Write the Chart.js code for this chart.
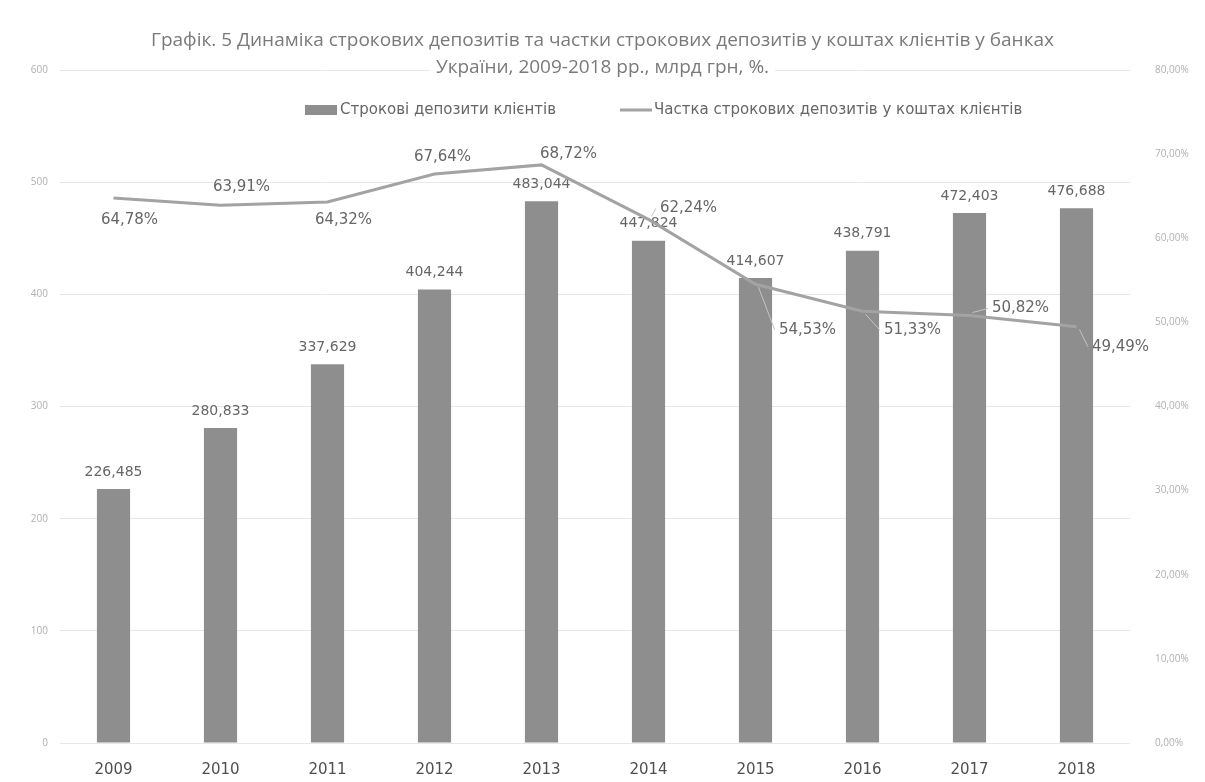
<!DOCTYPE html>
<html lang="uk">
<head>
<meta charset="utf-8">
<title>Строкові депозити</title>
<script src="https://cdn.jsdelivr.net/npm/chart.js@4.4.1/dist/chart.umd.min.js"></script>
<style>
  html, body { margin: 0; padding: 0; background: #fff; }
  #wrap { width: 1205px; height: 782px; }
</style>
</head>
<body>
<div id="wrap"><canvas id="depChart"></canvas></div>
<script>
// years on the category axis
const years = ['2009', '2010', '2011', '2012', '2013', '2014', '2015', '2016', '2017', '2018'];
// term deposits of clients, bn UAH
const termDeposits = [226.485, 280.833, 337.629, 404.244, 483.044, 447.824, 414.607, 438.791, 472.403, 476.688];
// share of term deposits in client funds, %
const termShare = [64.78, 63.91, 64.32, 67.64, 68.72, 62.24, 54.53, 51.33, 50.82, 49.49];

const titleLines = ['Графік. 5 Динаміка строкових депозитів та частки строкових депозитів у коштах клієнтів у банках',
                    'України, 2009-2018 рр., млрд грн, %.'];
const barLabel = 'Строкові депозити клієнтів';
const lineLabel = 'Частка строкових депозитів у коштах клієнтів';

// where each % label sits relative to its point (text centre)
const shareLabelPos = [[16, 22], [21, -18], [16, 18], [8, -17], [27, -11], [40, -11], [52, 46], [50, 19], [51, -7], [44, 20]];
const shareLeader = [false, false, false, false, false, true, true, true, true, true];

const barColor = '#8e8e8e';
const lineColor = '#a3a3a3';
const labelFont = '"DejaVu Sans", Verdana, sans-serif';

const fmtBar = v => v.toFixed(3).replace('.', ',');
const fmtPct = v => v.toFixed(2).replace('.', ',') + '%';

const overlay = {
  id: 'overlay',
  afterDatasetDraw(chart, args) {
    const ctx = chart.ctx;
    ctx.save();
    ctx.textAlign = 'center';
    ctx.textBaseline = 'middle';
    if (args.index === 0) {
      // values above the bars (the line is drawn over them)
      ctx.font = '14px ' + labelFont;
      ctx.fillStyle = '#666';
      args.meta.data.forEach((bar, i) => {
        ctx.fillText(fmtBar(termDeposits[i]), bar.x, bar.y - 17);
      });
    } else {
      ctx.font = '15px ' + labelFont;
      args.meta.data.forEach((pt, i) => {
        const txt = fmtPct(termShare[i]);
        const lx = pt.x + shareLabelPos[i][0];
        const ly = pt.y + shareLabelPos[i][1];
        const w = ctx.measureText(txt).width;
        if (shareLeader[i]) {
          ctx.strokeStyle = '#c4c4c4';
          ctx.lineWidth = 1;
          ctx.beginPath();
          ctx.moveTo(pt.x + 3, pt.y + (ly > pt.y ? 3 : -3));
          ctx.lineTo(lx - w / 2 - 4, ly);
          ctx.stroke();
        }
        ctx.fillStyle = '#666';
        ctx.fillText(txt, lx, ly);
      });
    }
    ctx.restore();
  },
  afterDraw(chart) {
    const ctx = chart.ctx;
    const cx = chart.width / 2;
    ctx.save();
    // title, painted over the top gridline
    ctx.font = '19px "Open Sans"';
    ctx.textAlign = 'center';
    ctx.textBaseline = 'middle';
    titleLines.forEach((line, i) => {
      const y = 41 + i * 27;
      const w = ctx.measureText(line).width;
      ctx.fillStyle = '#fff';
      ctx.fillRect(cx - w / 2 - 6, y - 12, w + 12, 24);
      ctx.fillStyle = '#7a7a7a';
      ctx.fillText(line, cx, y);
    });
    // legend
    ctx.font = '15px ' + labelFont;
    ctx.textAlign = 'left';
    const ly = 110;
    ctx.fillStyle = barColor;
    ctx.fillRect(305, ly - 5, 32, 10);
    ctx.fillStyle = '#666';
    ctx.fillText(barLabel, 340, ly);
    ctx.strokeStyle = lineColor;
    ctx.lineWidth = 3;
    ctx.beginPath();
    ctx.moveTo(620, ly);
    ctx.lineTo(652, ly);
    ctx.stroke();
    ctx.fillText(lineLabel, 654, ly);
    ctx.restore();
  }
};

new Chart(document.getElementById('depChart'), {
  data: {
    labels: years,
    datasets: [
      {
        type: 'bar',
        label: barLabel,
        data: termDeposits,
        backgroundColor: barColor,
        barPercentage: 0.31,
        categoryPercentage: 1,
        yAxisID: 'y',
        order: 1
      },
      {
        type: 'line',
        label: lineLabel,
        data: termShare,
        borderColor: lineColor,
        borderWidth: 3,
        pointRadius: 0,
        tension: 0,
        yAxisID: 'y1',
        order: 0
      }
    ]
  },
  options: {
    responsive: true,
    maintainAspectRatio: false,
    animation: false,
    layout: { padding: { top: 70, left: 0, right: 0, bottom: 0 } },
    plugins: {
      legend: { display: false },
      title: { display: false },
      tooltip: { enabled: false }
    },
    scales: {
      x: {
        grid: { display: false, drawTicks: false },
        border: { display: false },
        ticks: { padding: 18, color: '#4f4f4f', font: { family: 'DejaVu Sans', size: 15 } },
        afterFit(scale) { scale.height = 39; }
      },
      y: {
        position: 'left',
        min: 0,
        max: 600,
        ticks: { stepSize: 100, padding: 12, color: '#b0b0b0', font: { family: 'Open Sans', size: 10 } },
        grid: { color: '#e8e8e8', drawTicks: false },
        border: { display: false },
        afterFit(scale) { scale.width = 60; }
      },
      y1: {
        position: 'right',
        min: 0,
        max: 80,
        ticks: {
          stepSize: 10,
          padding: 25,
          color: '#b0b0b0',
          font: { family: 'Open Sans', size: 10 },
          callback: v => v.toFixed(2).replace('.', ',') + '%'
        },
        grid: { display: false, drawTicks: false },
        border: { display: false },
        afterFit(scale) { scale.width = 75; }
      }
    }
  },
  plugins: [overlay]
});
</script>
</body>
</html>
